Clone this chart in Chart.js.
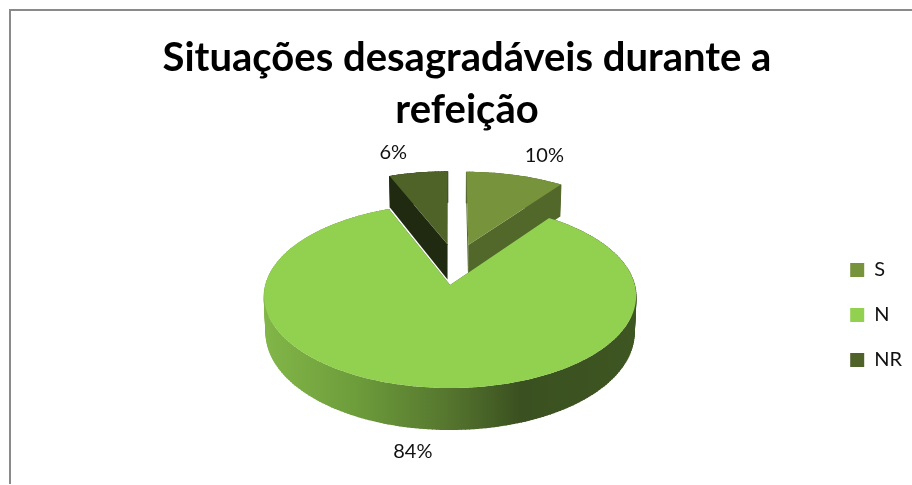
<!DOCTYPE html>
<html>
<head>
<meta charset="utf-8">
<script src="https://cdn.jsdelivr.net/npm/chart.js@4/dist/chart.umd.min.js"></script>
<style>
  html, body { margin: 0; background: #fff; overflow: hidden; width: 912px; height: 485px; }
  #frame { position: absolute; left: 9px; top: 9px; width: 916px; height: 473px; border-top: 2px solid #8a8a8a; border-left: 2px solid #8a8a8a; }
</style>
</head>
<body>
<div id="frame"><canvas id="pieChart" width="916" height="473"></canvas></div>
<script>
const titleLines = ['Situações desagradáveis durante a', 'refeição'];
const categories = ['S', 'N', 'NR'];
const percentValues = [10, 84, 6];
const sliceColors = ['#77933c', '#92d050', '#4f6228'];
const cutColors = ['#52672a', '#3d5521', '#1f2a10'];

// 3D look, the pie is exploded and seen in perspective
const TILT_X = 0.993, TILT_Y = 0.488, PERSPECTIVE = 0.1196, DEPTH = 37 / 186;
const ORIGIN_U = 0.03, ORIGIN_V = -0.238, SHIFT_X = 26.5, LIFT = -30;
const labelNudges = [[29, -20], [-11, 64], [-25, -20]];

function project(arc, u, v, z) {
  const R = arc.outerRadius;
  const w = 1 - PERSPECTIVE * v;
  return {
    x: arc.x + SHIFT_X + R * TILT_X * u / w * (1 - 0.01 * z),
    y: arc.y + LIFT + R * TILT_Y * v / w + R * DEPTH * z / w
  };
}

function sliceShape(arc) {
  const mid = (arc.startAngle + arc.endAngle) / 2;
  const e = (arc.options.offset / 2) / arc.outerRadius;
  const cu = ORIGIN_U + e * Math.cos(mid);
  const cv = ORIGIN_V + e * Math.sin(mid);
  const rim = z => {
    const pts = [];
    const steps = Math.ceil((arc.endAngle - arc.startAngle) / 0.02);
    for (let i = 0; i <= steps; i++) {
      const a = arc.startAngle + (arc.endAngle - arc.startAngle) * i / steps;
      pts.push(project(arc, cu + Math.cos(a), cv + Math.sin(a), z));
    }
    return pts;
  };
  return { mid, cu, cv, rim, apex: z => project(arc, cu, cv, z) };
}

function fillPoly(ctx, pts, color) {
  ctx.beginPath();
  pts.forEach((p, i) => i ? ctx.lineTo(p.x, p.y) : ctx.moveTo(p.x, p.y));
  ctx.closePath();
  ctx.fillStyle = color;
  ctx.fill();
}

const pie3d = {
  id: 'pie3d',
  beforeDatasetsDraw(chart) {
    const ctx = chart.ctx;
    const arcs = chart.getDatasetMeta(0).data;
    const order = arcs.map((a, i) => i).sort((i, j) =>
      Math.sin((arcs[i].startAngle + arcs[i].endAngle) / 2) - Math.sin((arcs[j].startAngle + arcs[j].endAngle) / 2));

    order.forEach(i => {
      const arc = arcs[i];
      const s = sliceShape(arc);
      const top = s.rim(0), bottom = s.rim(1);
      // cut faces
      fillPoly(ctx, [s.apex(0), top[0], bottom[0], s.apex(1)], cutColors[i]);
      fillPoly(ctx, [s.apex(0), top[top.length - 1], bottom[bottom.length - 1], s.apex(1)], cutColors[i]);
      // outer wall
      let wall = cutColors[i];
      if (categories[i] === 'N') {
        const cx = arc.x + SHIFT_X, R = arc.outerRadius;
        wall = ctx.createLinearGradient(cx - R, 0, cx + R, 0);
        wall.addColorStop(0, '#82b648');
        wall.addColorStop(0.25, '#6d9c3b');
        wall.addColorStop(0.5, '#55752e');
        wall.addColorStop(0.69, '#3a5020');
        wall.addColorStop(1, '#3e5622');
      }
      fillPoly(ctx, top.concat(bottom.slice().reverse()), wall);
      // vertical strokes close the silhouette at the far left and right
      ctx.beginPath();
      top.forEach((p, k) => { ctx.moveTo(p.x, p.y); ctx.lineTo(bottom[k].x, bottom[k].y); });
      ctx.strokeStyle = wall;
      ctx.lineWidth = 1;
      ctx.stroke();
      // top face
      fillPoly(ctx, [s.apex(0)].concat(top), arc.options.backgroundColor);
    });

    // percentage labels outside the rim
    ctx.font = '20px Lato';
    ctx.fillStyle = '#111';
    ctx.textAlign = 'center';
    ctx.textBaseline = 'middle';
    arcs.forEach((arc, i) => {
      const s = sliceShape(arc);
      const p = project(arc, s.cu + Math.cos(s.mid), s.cv + Math.sin(s.mid), 0);
      ctx.fillText(percentValues[i] + '%', p.x + labelNudges[i][0], p.y + labelNudges[i][1]);
    });
    return false;
  }
};

new Chart(document.getElementById('pieChart'), {
  type: 'pie',
  data: {
    labels: categories,
    datasets: [{
      data: percentValues,
      backgroundColor: sliceColors,
      borderWidth: 0,
      offset: 89,
      radius: 186
    }]
  },
  options: {
    responsive: false,
    animation: false,
    layout: { padding: { left: 11, right: 15 } },
    plugins: {
      title: {
        display: true,
        text: titleLines,
        color: '#000',
        font: { family: 'Lato', size: 40, weight: 'bold', lineHeight: 1.3 },
        padding: { top: 21, bottom: 10 }
      },
      legend: {
        position: 'right',
        fullSize: false,
        labels: {
          boxWidth: 14,
          boxHeight: 14,
          padding: 25,
          color: '#111',
          font: { family: 'Lato', size: 20 }
        }
      },
      tooltip: { enabled: false }
    }
  },
  plugins: [pie3d]
});
</script>
</body>
</html>
